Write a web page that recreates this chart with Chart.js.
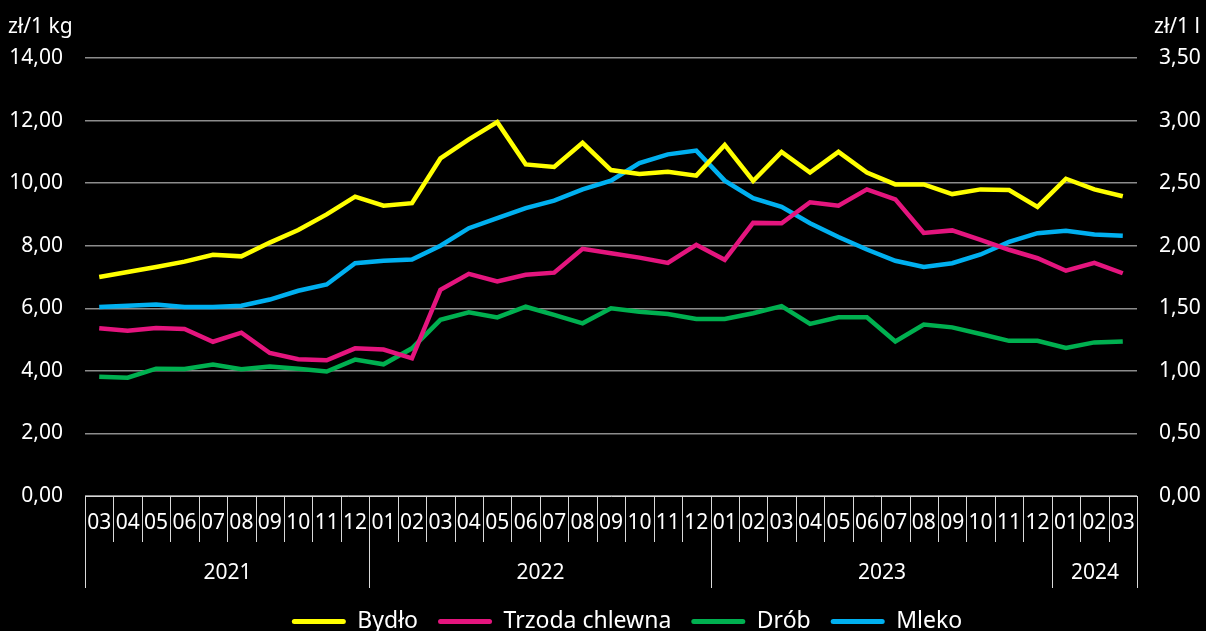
<!DOCTYPE html>
<html>
<head>
<meta charset="utf-8">
<script src="https://cdn.jsdelivr.net/npm/chart.js@4.4.1/dist/chart.umd.min.js"></script>
<style>
  html, body { margin: 0; padding: 0; background: #000; }
  #wrap { width: 1206px; height: 631px; }
</style>
</head>
<body>
<div id="wrap"><canvas id="priceChart" width="1206" height="631"></canvas></div>
<script>
// months 03/2021 - 03/2024
const months = ['03','04','05','06','07','08','09','10','11','12',
                '01','02','03','04','05','06','07','08','09','10','11','12',
                '01','02','03','04','05','06','07','08','09','10','11','12',
                '01','02','03'];
const yearLabels = ['2021', '2022', '2023', '2024'];
const yearSpans = [10, 12, 12, 3];

// zł/1 kg
const bydlo = [7.00, 7.16, 7.32, 7.49, 7.71, 7.66, 8.10, 8.50, 9.00, 9.57,
               9.28, 9.36, 10.79, 11.40, 11.95, 10.60, 10.52, 11.29, 10.42, 10.29, 10.36, 10.24,
               11.22, 10.07, 11.00, 10.34, 11.00, 10.34, 9.96, 9.96, 9.65, 9.80, 9.78, 9.24,
               10.14, 9.80, 9.58];
const trzoda = [5.36, 5.28, 5.37, 5.34, 4.93, 5.22, 4.57, 4.37, 4.34, 4.72,
                4.68, 4.40, 6.59, 7.10, 6.86, 7.07, 7.14, 7.90, 7.76, 7.62, 7.45, 8.03,
                7.55, 8.73, 8.72, 9.39, 9.28, 9.80, 9.48, 8.41, 8.49, 8.19, 7.87, 7.60,
                7.20, 7.45, 7.12];
const drob = [3.81, 3.78, 4.07, 4.06, 4.20, 4.05, 4.14, 4.07, 3.98, 4.36,
              4.21, 4.72, 5.63, 5.87, 5.71, 6.05, 5.79, 5.52, 6.00, 5.89, 5.82, 5.66,
              5.66, 5.84, 6.07, 5.50, 5.71, 5.71, 4.94, 5.48, 5.39, 5.18, 4.96, 4.96,
              4.73, 4.91, 4.94];
// zł/1 l
const mleko = [1.51, 1.52, 1.53, 1.51, 1.51, 1.52, 1.57, 1.64, 1.69, 1.86,
               1.88, 1.89, 2.00, 2.14, 2.22, 2.30, 2.36, 2.45, 2.52, 2.66, 2.73, 2.76,
               2.52, 2.38, 2.31, 2.18, 2.07, 1.97, 1.88, 1.83, 1.86, 1.93, 2.03, 2.10,
               2.12, 2.09, 2.08];

const FONT = "'Noto Sans', 'DejaVu Sans', sans-serif";
const fmt = v => v.toFixed(2).replace('.', ',');

// month separators, year row and axis unit titles
const axisDecor = {
    id: 'axisDecor',
    afterDraw(chart) {
        const ctx = chart.ctx;
        const x = chart.scales.x;
        const half = (x.getPixelForValue(1) - x.getPixelForValue(0)) / 2;
        const edge = i => Math.round(x.getPixelForValue(i) - half) + 0.5;
        const top = x.top;

        ctx.save();
        ctx.strokeStyle = '#d9d9d9';
        ctx.lineWidth = 1;

        const bounds = [0];
        yearSpans.forEach(s => bounds.push(bounds[bounds.length - 1] + s));

        for (let i = 0; i <= months.length; i++) {
            const long = bounds.includes(i);
            ctx.beginPath();
            ctx.moveTo(edge(i), top);
            ctx.lineTo(edge(i), top + (long ? 92 : 46));
            ctx.stroke();
        }

        ctx.fillStyle = '#fff';
        ctx.font = '21px ' + FONT;
        ctx.textAlign = 'center';
        ctx.textBaseline = 'middle';
        yearLabels.forEach((y, k) => {
            const mid = (edge(bounds[k]) + edge(bounds[k + 1])) / 2;
            ctx.fillText(y, mid, top + 77);
        });

        // unit titles
        const yTop = chart.chartArea.top - 31;
        ctx.textAlign = 'left';
        ctx.fillText('zł/1 kg', 8, yTop);
        ctx.textAlign = 'right';
        ctx.fillText('zł/1 l', 1200, yTop);
        ctx.restore();
    }
};

const ctx = document.getElementById('priceChart').getContext('2d');
new Chart(ctx, {
    type: 'line',
    data: {
        labels: months,
        datasets: [
            { label: 'Bydło', data: bydlo, borderColor: '#ffff00', backgroundColor: '#ffff00', yAxisID: 'y' },
            { label: 'Trzoda chlewna', data: trzoda, borderColor: '#e4157e', backgroundColor: '#e4157e', yAxisID: 'y' },
            { label: 'Drób', data: drob, borderColor: '#00b050', backgroundColor: '#00b050', yAxisID: 'y' },
            { label: 'Mleko', data: mleko, borderColor: '#00b0f0', backgroundColor: '#00b0f0', yAxisID: 'y1' }
        ]
    },
    options: {
        responsive: false,
        animation: false,
        // negative right padding pushes the legend a bit right of centre, as in the original
        layout: { padding: { top: 58, left: 8, right: -40, bottom: -12 } },
        elements: {
            line: { borderWidth: 4.5, tension: 0 },
            point: { radius: 0 }
        },
        plugins: {
            legend: {
                position: 'bottom',
                labels: {
                    color: '#fff',
                    font: { family: FONT, size: 23 },
                    boxWidth: 54,
                    boxHeight: 5,
                    useBorderRadius: true,
                    borderRadius: 2.5,
                    padding: 20,
                    generateLabels: chart =>
                        Chart.defaults.plugins.legend.labels.generateLabels(chart)
                            .map(item => Object.assign(item, { lineWidth: 0 }))
                }
            },
            tooltip: { enabled: false }
        },
        scales: {
            x: {
                offset: true,
                grid: { display: false, drawTicks: false },
                border: { display: true, color: '#d9d9d9', width: 1 },
                ticks: {
                    color: '#fff',
                    font: { family: FONT, size: 21 },
                    autoSkip: false,
                    maxRotation: 0,
                    padding: 14
                },
                afterFit(scale) { scale.height = 94; }
            },
            y: {
                position: 'left',
                min: 0,
                max: 14,
                grid: { color: '#8c8c8c', lineWidth: 1.5, drawTicks: false },
                border: { display: false },
                ticks: {
                    stepSize: 2,
                    color: '#fff',
                    font: { family: FONT, size: 21 },
                    padding: 22,
                    callback: v => fmt(v)
                },
                afterFit(scale) { scale.width = 77; }
            },
            y1: {
                position: 'right',
                min: 0,
                max: 3.5,
                grid: { drawOnChartArea: false, drawTicks: false },
                border: { display: false },
                ticks: {
                    stepSize: 0.5,
                    color: '#fff',
                    font: { family: FONT, size: 21 },
                    padding: 22,
                    callback: v => fmt(v)
                },
                afterFit(scale) { scale.width = 109; }
            }
        }
    },
    plugins: [axisDecor]
});
</script>
</body>
</html>
